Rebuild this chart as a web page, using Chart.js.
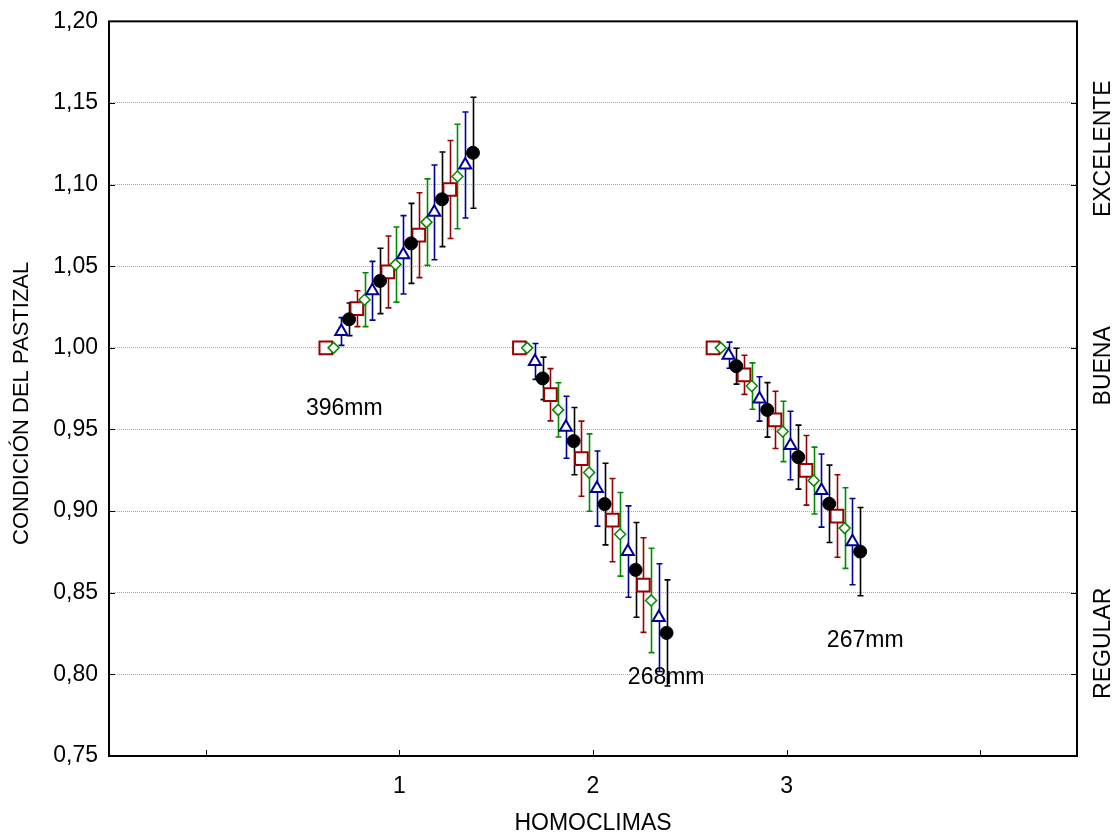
<!DOCTYPE html>
<html>
<head>
<meta charset="utf-8">
<title>Condición del pastizal</title>
<script src="https://cdn.jsdelivr.net/npm/chart.js@4"></script>
<style>
    html, body { margin: 0; padding: 0; background: #ffffff; }
    #wrap { width: 1118px; height: 834px; }
</style>
</head>
<body>
<div id="wrap"><canvas id="myChart" width="1118" height="834"></canvas></div>
<script>
/*
    Condición del pastizal por homoclima, con barras de error
*/

const homoclimas = [1, 2, 3];          // x-axis categories
const xTickLabels = ['1', '2', '3'];    // only these ticks get a label
const xTickValues = [0, 1, 2, 3, 4];    // tick marks on the x axis

// horizontal offset of each of the 20 points inside a homoclima
const offsets = [-0.38, -0.34, -0.30, -0.26, -0.22, -0.18, -0.14, -0.10, -0.06, -0.02,
                  0.02,  0.06,  0.10,  0.14,  0.18,  0.22,  0.26,  0.30,  0.34,  0.38];

// means and half-width of the error bars
const means1 = [1.000, 1.000, 1.010, 1.0175, 1.024, 1.0295, 1.035, 1.041, 1.0465, 1.051,
                1.057, 1.064, 1.069, 1.077, 1.083, 1.091, 1.097, 1.105, 1.112, 1.1195];
const errs1  = [0, 0, 0.0085, 0.010, 0.011, 0.0165, 0.018, 0.020, 0.022, 0.023,
                0.024, 0.0245, 0.026, 0.0265, 0.029, 0.029, 0.030, 0.032, 0.0325, 0.034];

const means2 = [1.000, 1.000, 0.9917, 0.9813, 0.9713, 0.962, 0.9514, 0.9429, 0.9321, 0.9236,
                0.9138, 0.9043, 0.8945, 0.8858, 0.8752, 0.864, 0.8547, 0.8453, 0.8348, 0.8254];
const errs2  = [0, 0, 0.011, 0.013, 0.016, 0.0166, 0.019, 0.0206, 0.023, 0.0237,
                0.023, 0.025, 0.0255, 0.0256, 0.028, 0.029, 0.029, 0.032, 0.033, 0.0325];

const means3 = [1.000, 1.000, 0.9955, 0.9888, 0.9835, 0.9766, 0.9687, 0.962, 0.9559, 0.9488,
                0.9402, 0.9331, 0.925, 0.9187, 0.9126, 0.9045, 0.897, 0.8896, 0.8813, 0.8752];
const errs3  = [0, 0, 0.008, 0.011, 0.012, 0.0142, 0.0136, 0.0167, 0.0175, 0.0185,
                0.021, 0.0196, 0.0213, 0.0205, 0.0224, 0.0237, 0.0253, 0.0247, 0.0264, 0.027];

const groupMeans = [means1, means2, means3];
const groupErrs = [errs1, errs2, errs3];

// text placed inside the plot
const noteTexts = ['396mm', '268mm', '267mm'];
const noteX = [0.715, 2.378, 3.406];
const noteY = [0.9625, 0.798, 0.8206];

// condition classes written on the right side
const classTexts = ['EXCELENTE', 'BUENA', 'REGULAR'];
const classY = [1.122, 0.989, 0.819];

const yTitle = 'CONDICIÓN DEL PASTIZAL';
const yTitleAt = 0.966;      // value where the rotated title is centred

const FONT = "'Liberation Sans', Arial, sans-serif";
const RED = '#990000';
const GREEN = '#008a00';
const BLUE = '#000099';
const BLACK = '#000000';
const pointColors = [RED, GREEN, BLUE, BLACK];   // square, diamond, triangle, circle

// split the 20 points of every group into the 4 marker series
function seriesFor(k){
    const pts = [];
    homoclimas.forEach((h, g) => {
        groupMeans[g].forEach((m, i) => {
            if (i % 4 === k) pts.push({x: h + offsets[i], y: m});
        });
    });
    return pts;
}

// error bars go under the markers, frame/ticks/texts on top
const extras = {
    id: 'extras',
    beforeDatasetsDraw(chart){
        const ctx = chart.ctx;
        const xs = chart.scales.x;
        const ys = chart.scales.y;
        ctx.save();
        ctx.lineWidth = 1.6;
        homoclimas.forEach((h, g) => {
            groupMeans[g].forEach((m, i) => {
                const e = groupErrs[g][i];
                if (!e) return;
                const px = Math.round(xs.getPixelForValue(h + offsets[i])) + 0.5;
                const top = ys.getPixelForValue(m + e);
                const bot = ys.getPixelForValue(m - e);
                ctx.strokeStyle = pointColors[i % 4];
                ctx.beginPath();
                ctx.moveTo(px, top);
                ctx.lineTo(px, bot);
                ctx.moveTo(px - 3, top);
                ctx.lineTo(px + 3, top);
                ctx.moveTo(px - 3, bot);
                ctx.lineTo(px + 3, bot);
                ctx.stroke();
            });
        });
        ctx.restore();
    },
    afterDraw(chart){
        const ctx = chart.ctx;
        const a = chart.chartArea;
        const xs = chart.scales.x;
        const ys = chart.scales.y;
        ctx.save();

        // inward tick marks
        ctx.strokeStyle = BLACK;
        ctx.lineWidth = 1;
        ctx.beginPath();
        ys.ticks.forEach(t => {
            const py = Math.round(ys.getPixelForValue(t.value)) + 0.5;
            ctx.moveTo(a.left, py);
            ctx.lineTo(a.left + 6, py);
            ctx.moveTo(a.right - 6, py);
            ctx.lineTo(a.right, py);
        });
        xTickValues.forEach(v => {
            const px = Math.round(xs.getPixelForValue(v)) + 0.5;
            ctx.moveTo(px, a.bottom);
            ctx.lineTo(px, a.bottom - 6);
        });
        ctx.stroke();

        // box around the plot
        ctx.lineWidth = 2;
        ctx.strokeRect(a.left, a.top, a.right - a.left, a.bottom - a.top);

        // notes inside the plot
        ctx.fillStyle = BLACK;
        ctx.font = '23px ' + FONT;
        ctx.textAlign = 'center';
        ctx.textBaseline = 'middle';
        noteTexts.forEach((txt, i) => {
            ctx.fillText(txt, xs.getPixelForValue(noteX[i]), ys.getPixelForValue(noteY[i]));
        });

        // class names on the right, rotated
        classTexts.forEach((txt, i) => {
            ctx.save();
            ctx.translate(a.right + 27, ys.getPixelForValue(classY[i]));
            ctx.rotate(-Math.PI / 2);
            ctx.fillText(txt, 0, 0);
            ctx.restore();
        });

        // y axis title, a bit below the middle as in the original
        ctx.font = '22px ' + FONT;
        ctx.save();
        ctx.translate(22, ys.getPixelForValue(yTitleAt));
        ctx.rotate(-Math.PI / 2);
        ctx.fillText(yTitle, 0, 0);
        ctx.restore();

        ctx.restore();
    }
};

function createChart(){
    const ctx = document.getElementById('myChart');
    const myChart = new Chart(ctx, {
        type: 'scatter',
        data: {
            datasets: [
                {   // filled circles
                    data: seriesFor(3),
                    pointStyle: 'circle',
                    pointRadius: 6.5,
                    backgroundColor: BLACK,
                    borderColor: BLACK,
                    borderWidth: 1
                },
                {   // open triangles
                    data: seriesFor(2),
                    pointStyle: 'triangle',
                    pointRadius: 7,
                    backgroundColor: '#ffffff',
                    borderColor: BLUE,
                    borderWidth: 2
                },
                {   // open diamonds
                    data: seriesFor(1),
                    pointStyle: 'rectRot',
                    pointRadius: 5.5,
                    backgroundColor: '#ffffff',
                    borderColor: GREEN,
                    borderWidth: 1.5
                },
                {   // open squares
                    data: seriesFor(0),
                    pointStyle: 'rect',
                    pointRadius: 9,
                    backgroundColor: '#ffffff',
                    borderColor: RED,
                    borderWidth: 2
                }
            ]
        },
        options: {
            responsive: false,
            animation: false,
            events: [],
            layout: {
                padding: {top: 16, right: 41, bottom: 0, left: 0}
            },
            scales: {
                x: {
                    type: 'linear',
                    min: -0.5,
                    max: 4.5,
                    afterFit: scale => { scale.height = 78; },
                    afterBuildTicks: scale => {
                        scale.ticks = xTickValues.map(v => ({value: v}));
                    },
                    grid: { display: false },
                    border: { display: false },
                    ticks: {
                        padding: 9,
                        color: BLACK,
                        font: { family: FONT, size: 23 },
                        callback: function(val){
                            const i = homoclimas.indexOf(val);
                            return i >= 0 ? xTickLabels[i] : '';
                        }
                    },
                    title: {
                        display: true,
                        text: 'HOMOCLIMAS',
                        color: BLACK,
                        font: { family: FONT, size: 23 },
                        padding: { top: 0, bottom: -3 }
                    }
                },
                y: {
                    min: 0.75,
                    max: 1.20,
                    afterFit: scale => { scale.width = 109; },
                    grid: {
                        color: '#a8a8a8',
                        lineWidth: 1,
                        drawTicks: false
                    },
                    border: { display: false, dash: [1, 1] },
                    ticks: {
                        stepSize: 0.05,
                        padding: 11,
                        color: BLACK,
                        font: { family: FONT, size: 23, lineHeight: 0.9 },
                        callback: val => val.toFixed(2).replace('.', ',')
                    }
                }
            },
            plugins: {
                legend: { display: false },
                tooltip: { enabled: false }
            }
        },
        plugins: [extras]
    });
}

createChart();
</script>
</body>
</html>
